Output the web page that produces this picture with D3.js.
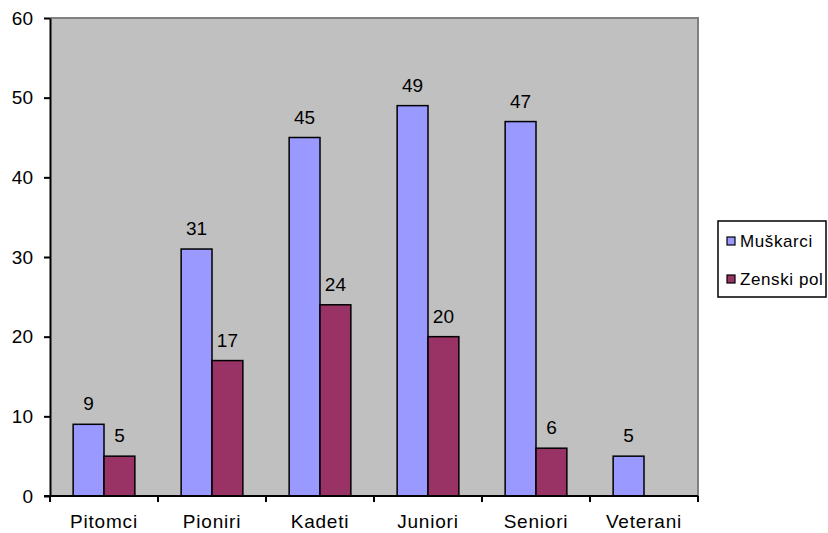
<!DOCTYPE html>
<html>
<head>
<meta charset="utf-8">
<script src="https://cdn.jsdelivr.net/npm/d3@7"></script>
<style>
  body { margin: 0; background: #fff; }
  text { font-family: "Liberation Sans", Arial, sans-serif; fill: #000; }
</style>
</head>
<body>
<script>
const width = 828, height = 533;
const margin = {top: 18, right: 130, bottom: 37, left: 50};

// data
const categories = ["Pitomci", "Pioniri", "Kadeti", "Juniori", "Seniori", "Veterani"];
const seriesNames = ["Muškarci", "Zenski pol"];
const muskarci = [9, 31, 45, 49, 47, 5];
const zenski = [5, 17, 24, 20, 6, null];
const yTicks = [0, 10, 20, 30, 40, 50, 60];
const colors = ["#9999FF", "#993366"];

const series = [muskarci, zenski];

const svg = d3.select("body").append("svg")
    .attr("width", width)
    .attr("height", height);

const x0 = d3.scaleBand()
    .domain(categories)
    .range([margin.left, 698])
    .paddingInner(0).paddingOuter(0);

// excel gap width 150%: bars take 2/(2+1.5) of each category
const x1 = d3.scaleBand()
    .domain(seriesNames)
    .range([0, x0.bandwidth()])
    .paddingOuter(0.75).paddingInner(0);

const y = d3.scaleLinear()
    .domain([0, 60])
    .range([496, margin.top]);

// plot area
svg.append("rect")
    .attr("x", x0.range()[0])
    .attr("y", y(60))
    .attr("width", x0.range()[1] - x0.range()[0])
    .attr("height", y(0) - y(60))
    .attr("fill", "#C0C0C0");

svg.append("path")
    .attr("d", `M${x0.range()[0]},${y(60)}H${x0.range()[1]}V${y(0)}`)
    .attr("fill", "none")
    .attr("stroke", "#808080")
    .attr("stroke-width", 2);

// bars
const groups = svg.append("g").selectAll("g")
    .data(categories)
    .join("g")
    .attr("transform", d => `translate(${x0(d)},0)`);

const cells = (d, i) => series.map((s, j) => ({name: seriesNames[j], value: s[i], j})).filter(e => e.value != null);

groups.selectAll("rect")
    .data(cells)
    .join("rect")
    .attr("x", d => x1(d.name))
    .attr("y", d => y(d.value))
    .attr("width", x1.bandwidth())
    .attr("height", d => y(0) - y(d.value))
    .attr("fill", d => colors[d.j])
    .attr("stroke", "#000")
    .attr("stroke-width", 1.5);

groups.selectAll("text")
    .data(cells)
    .join("text")
    .attr("x", d => x1(d.name) + x1.bandwidth() / 2)
    .attr("y", d => y(d.value) - 14)
    .attr("text-anchor", "middle")
    .style("font-size", "19px")
    .text(d => d.value);

// y axis
svg.append("g")
    .attr("transform", `translate(${margin.left},0)`)
    .call(d3.axisLeft(y).tickValues(yTicks).tickSize(6).tickPadding(11).tickSizeOuter(0))
    .call(g => g.select(".domain").attr("stroke-width", 2))
    .call(g => g.selectAll(".tick line").attr("stroke-width", 2))
    .call(g => g.selectAll(".tick text").style("font-size", "19px").attr("font-family", null));

// x axis
const xAxis = svg.append("g")
    .attr("transform", `translate(0,${y(0)})`);
xAxis.append("line")
    .attr("x1", margin.left - 6).attr("x2", x0.range()[1])
    .attr("stroke", "#000").attr("stroke-width", 2);
xAxis.selectAll("line.tk")
    .data(categories.map(c => x0(c)).concat([x0.range()[1]]))
    .join("line")
    .attr("class", "tk")
    .attr("x1", d => d).attr("x2", d => d)
    .attr("y1", 0).attr("y2", 6)
    .attr("stroke", "#000").attr("stroke-width", 2);
xAxis.selectAll("text")
    .data(categories)
    .join("text")
    .attr("x", d => x0(d) + x0.bandwidth() / 2)
    .attr("y", 32)
    .attr("text-anchor", "middle")
    .style("font-size", "19px")
    .style("letter-spacing", "0.8px")
    .text(d => d);

// legend
const legend = svg.append("g");
legend.append("rect")
    .attr("x", 718).attr("y", 221)
    .attr("width", 108).attr("height", 76)
    .attr("fill", "#fff")
    .attr("stroke", "#000")
    .attr("stroke-width", 1.5);
seriesNames.forEach((name, i) => {
  const ly = 240 + i * 38;
  legend.append("rect")
      .attr("x", 727).attr("y", ly - 3)
      .attr("width", 8).attr("height", 8)
      .attr("fill", colors[i])
      .attr("stroke", "#000")
      .attr("stroke-width", 1.2);
  legend.append("text")
      .attr("x", 740).attr("y", ly + 7)
      .style("font-size", "17px")
      .style("letter-spacing", "0.6px")
      .text(name);
});
</script>
</body>
</html>
